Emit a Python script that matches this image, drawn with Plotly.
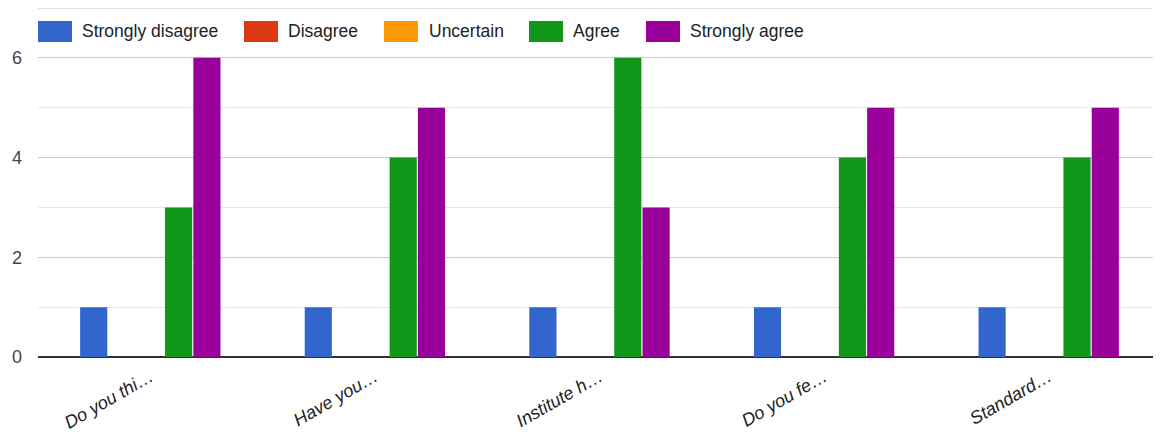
import plotly.graph_objects as go

categories = ["Do you thi…", "Have you…", "Institute h…", "Do you fe…", "Standard…"]
series_names = ["Strongly disagree", "Disagree", "Uncertain", "Agree", "Strongly agree"]
strongly_disagree = [1, 1, 1, 1, 1]
disagree = [0, 0, 0, 0, 0]
uncertain = [0, 0, 0, 0, 0]
agree = [3, 4, 6, 4, 4]
strongly_agree = [6, 5, 3, 5, 5]
colors = ["#3366cc", "#dc3912", "#ff9900", "#109618", "#990099"]

values = [strongly_disagree, disagree, uncertain, agree, strongly_agree]

# layout geometry (pixels on screen; page has an 8px body margin)
W, H = 1161, 439
PAGE_OFF = 8
plot_left, plot_right, plot_top, plot_bottom = 38, 1161, 8, 357
FONT = "Liberation Sans, Arial, sans-serif"

# manual legend positions (screen px)
legend_swatch_x = [38, 244, 384, 529, 646]
legend_text_x = [80, 286, 427, 571, 688]
legend_y0, legend_y1 = 21, 42
swatch_w = 34


def px_to_paper_x(sx):
    return (sx - plot_left) / (plot_right - plot_left)


def px_to_paper_y(sy):
    return (plot_bottom - sy) / (plot_bottom - plot_top)


fig = go.Figure()
for name, vals, col in zip(series_names, values, colors):
    fig.add_trace(go.Bar(x=categories, y=vals, name=name, showlegend=False,
                         marker=dict(color=col, line=dict(width=0))))

shapes = [dict(type="line", xref="paper", yref="paper", x0=0, x1=1, y0=0.999, y1=0.999,
               line=dict(color="#e3e3e3", width=1.5), layer="below")]
annotations = []
for name, col, sx, tx in zip(series_names, colors, legend_swatch_x, legend_text_x):
    shapes.append(dict(type="rect", xref="paper", yref="paper",
                       x0=px_to_paper_x(sx), x1=px_to_paper_x(sx + swatch_w),
                       y0=px_to_paper_y(legend_y1), y1=px_to_paper_y(legend_y0),
                       fillcolor=col, line=dict(width=0), layer="above"))
    annotations.append(dict(text=name, xref="paper", yref="paper",
                            x=px_to_paper_x(tx), y=px_to_paper_y((legend_y0 + legend_y1) / 2),
                            xanchor="left", yanchor="middle", showarrow=False,
                            font=dict(family=FONT, size=17.5, color="#222")))

fig.update_layout(
    width=W, height=H,
    margin=dict(l=plot_left - PAGE_OFF, r=W - plot_right + PAGE_OFF,
                t=plot_top - PAGE_OFF, b=H - plot_bottom + PAGE_OFF),
    plot_bgcolor="white", paper_bgcolor="white",
    barmode="group", bargap=0.37, bargroupgap=0.04,
    font=dict(family=FONT, size=18, color="#222"),
    showlegend=False,
    shapes=shapes, annotations=annotations,
    xaxis=dict(tickangle=-30, tickfont=dict(size=18, color="#222", style="italic"),
               showgrid=False, showline=False, ticks="", automargin=False,
               ticklabelstandoff=5),
    yaxis=dict(range=[0, 7.0], dtick=2, tick0=0, gridcolor="#cccccc", gridwidth=1,
               tickfont=dict(size=18, color="#444"), zeroline=True, zerolinecolor="#333",
               zerolinewidth=2, ticks="", automargin=False, ticklabelstandoff=15,
               minor=dict(dtick=1, showgrid=True, gridcolor="#e6e6e6")),
)

fig.write_html("out.html")
